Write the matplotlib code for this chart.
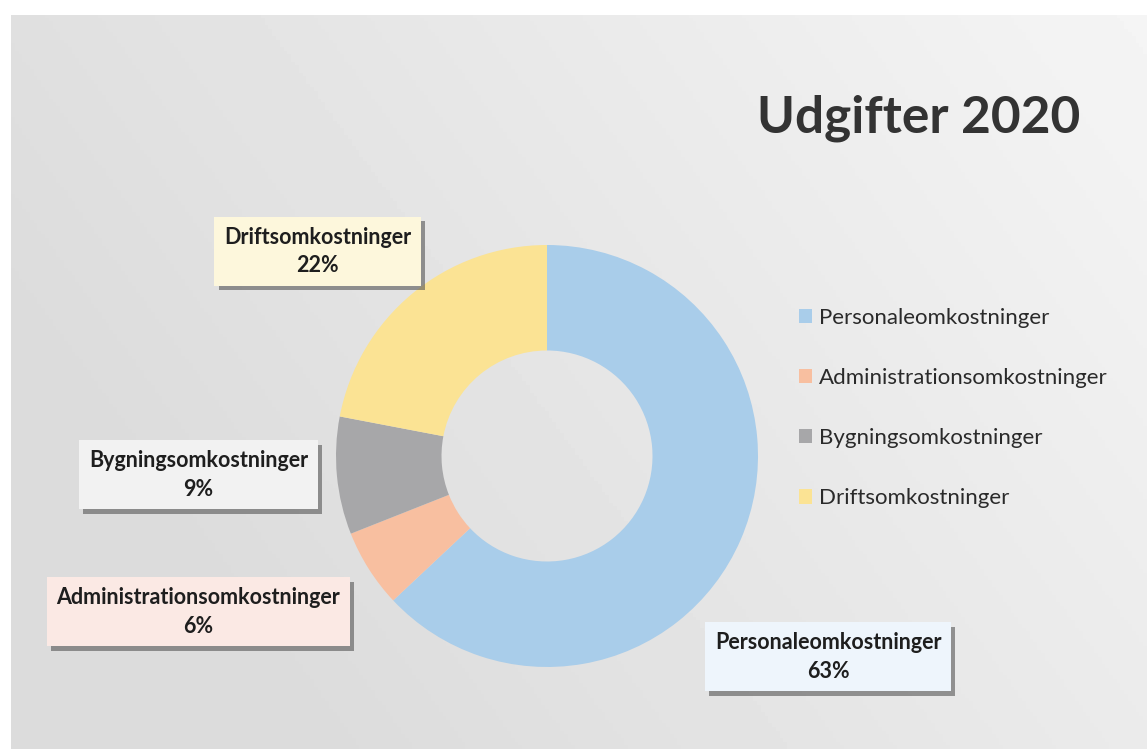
import matplotlib.pyplot as plt
import matplotlib.patheffects as pe
import numpy as np

# Data from the chart
categories = ['Personaleomkostninger', 'Administrationsomkostninger',
              'Bygningsomkostninger', 'Driftsomkostninger']
shares = [63, 6, 9, 22]
colors = ['#a9cdea', '#f8bfa0', '#a7a7a9', '#fbe394']
box_colors = ['#eef5fc', '#fbe9e4', '#f2f2f2', '#fdf7dc']
# label positions (figure fraction) for the data labels
label_x = [0.722, 0.173, 0.173, 0.277]
label_y = [0.123, 0.183, 0.366, 0.664]

plt.rcParams['font.family'] = ['Lato', 'DejaVu Sans']

fig = plt.figure(figsize=(11.47, 7.49), dpi=100, facecolor='white')

# background gradient (grey on the left, lighter to the upper right)
bg = fig.add_axes([0.01, 0.0, 0.99, 0.98])
xx, yy = np.meshgrid(np.linspace(0, 1, 300), np.linspace(0, 1, 200))
grad = 0.86 + 0.11 * np.clip(0.75 * xx + 0.35 * (1 - yy) - 0.2, 0, 1)
bg.imshow(grad, cmap='gray', vmin=0, vmax=1, aspect='auto', extent=[0, 1, 0, 1])
bg.set_axis_off()

# donut
ax = fig.add_axes([0.4769 - 0.184, 0.3912 - 0.2817, 0.368, 0.5634])
wedges, _ = ax.pie(shares, colors=colors, startangle=90, counterclock=False,
                   radius=1.0, wedgeprops=dict(width=0.5, edgecolor='none'))
ax.set_xlim(-1, 1)
ax.set_ylim(-1, 1)
ax.set_aspect('equal')
ax.set_axis_off()

# data labels
for name, val, bc, x, y in zip(categories, shares, box_colors, label_x, label_y):
    t = fig.text(x, y, f'{name}\n{val}%', ha='center', va='center',
                 fontsize=15.5, fontweight='bold', color='#1e1e1e', linespacing=1.45,
                 bbox=dict(boxstyle='square,pad=0.45', facecolor=bc, edgecolor='none'))
    t.get_bbox_patch().set_path_effects([
        pe.SimplePatchShadow(offset=(3, -3), shadow_rgbFace='#555555', alpha=0.6),
        pe.Normal()])

# title
fig.text(0.801, 0.842, 'Udgifter 2020', ha='center', va='center',
         fontsize=37, fontweight='bold', color='#333333')

# legend
leg = fig.legend(wedges, categories, loc='upper left', bbox_to_anchor=(0.679, 0.616),
                 frameon=False, fontsize=16, labelspacing=1.81, handlelength=0.6,
                 handleheight=0.6, handletextpad=0.3, labelcolor='#2a2a2a')

fig.savefig('out.png', dpi=100, facecolor=fig.get_facecolor())
